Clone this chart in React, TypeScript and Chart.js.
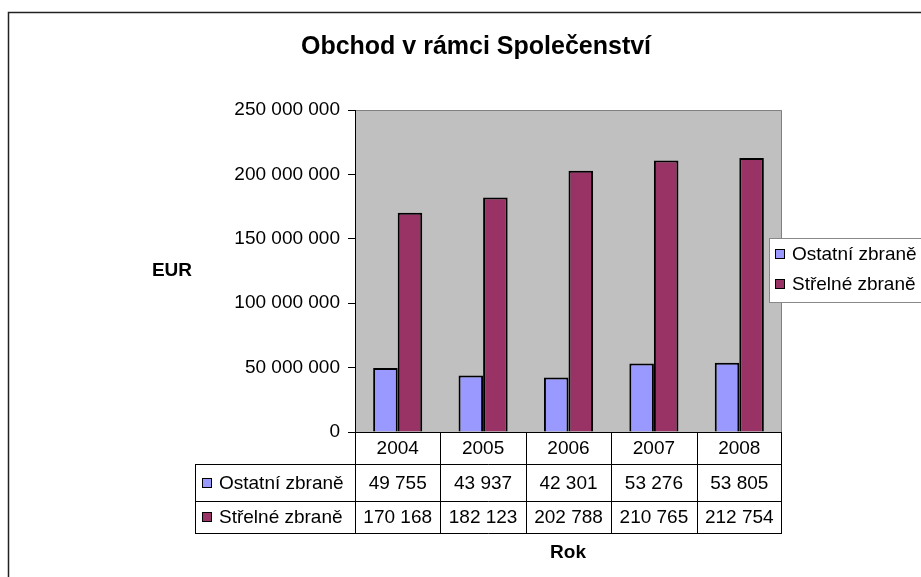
import React, { useEffect, useRef } from "react";
import { Chart, registerables } from "chart.js";

Chart.register(...registerables);

// Values in thousand EUR (as shown in the data table)
const categories = ["2004", "2005", "2006", "2007", "2008"];
const seriesNames = ["Ostatní zbraně", "Střelné zbraně"];
const ostatni = [49755, 43937, 42301, 53276, 53805];
const strelne = [170168, 182123, 202788, 210765, 212754];
const seriesColors = ["#9999FF", "#993366"];
const yMax = 250000;
const yStep = 50000;

const titleText = "Obchod v rámci Společenství";
const yTitle = "EUR";
const xTitle = "Rok";

const FONT = '"Liberation Sans", Arial, sans-serif';

const fmt = (n: number) => String(Math.round(n)).replace(/\B(?=(\d{3})+(?!\d))/g, " ");

const decor = {
  id: "decor",
  beforeDraw(chart: any) {
    const { ctx, chartArea: a, width, height } = chart;
    ctx.save();
    ctx.fillStyle = "#ffffff";
    ctx.fillRect(0, 0, width, height);
    ctx.fillStyle = "#C0C0C0";
    ctx.fillRect(a.left, a.top, a.right - a.left, a.bottom - a.top);
    ctx.strokeStyle = "#808080";
    ctx.lineWidth = 1;
    ctx.beginPath();
    ctx.moveTo(a.left, a.top + 0.5);
    ctx.lineTo(a.right - 0.5, a.top + 0.5);
    ctx.lineTo(a.right - 0.5, a.bottom);
    ctx.stroke();
    ctx.restore();
  },
  afterDraw(chart: any) {
    const { ctx, chartArea: a } = chart;
    const xs = chart.scales.x;
    ctx.save();
    // outer frame
    ctx.strokeStyle = "#222";
    ctx.lineWidth = 1.5;
    ctx.beginPath();
    ctx.moveTo(8.5, 600);
    ctx.lineTo(8.5, 12.5);
    ctx.lineTo(930, 12.5);
    ctx.stroke();

    // title
    ctx.fillStyle = "#000";
    ctx.textBaseline = "middle";
    ctx.textAlign = "center";
    ctx.font = `bold 25px ${FONT}`;
    ctx.fillText(titleText, 476, 47);
    ctx.font = `bold 19px ${FONT}`;
    ctx.fillText(yTitle, 172, 271);
    ctx.fillText(xTitle, 568, 553);

    // data table
    const top = a.bottom;
    const r0 = top + 32;
    const r1 = r0 + 37;
    const r2 = r1 + 32;
    const tLeft = 195.5;
    const bounds: number[] = [a.left];
    for (let i = 0; i < categories.length - 1; i++) {
      bounds.push((xs.getPixelForValue(i) + xs.getPixelForValue(i + 1)) / 2);
    }
    bounds.push(a.right);
    ctx.strokeStyle = "#000";
    ctx.lineWidth = 1;
    ctx.beginPath();
    ctx.moveTo(a.left, top + 0.5);
    ctx.lineTo(a.right, top + 0.5);
    [r0, r1, r2].forEach((y) => {
      ctx.moveTo(tLeft, Math.round(y) + 0.5);
      ctx.lineTo(a.right, Math.round(y) + 0.5);
    });
    ctx.moveTo(tLeft, Math.round(r0));
    ctx.lineTo(tLeft, Math.round(r2) + 1);
    bounds.forEach((bx, i) => {
      const x = Math.round(bx) + (i === bounds.length - 1 ? -0.5 : 0.5);
      ctx.moveTo(x, top);
      ctx.lineTo(x, Math.round(r2) + 1);
    });
    ctx.stroke();

    ctx.font = `19px ${FONT}`;
    ctx.textAlign = "center";
    const rows = [ostatni, strelne];
    categories.forEach((c, i) => {
      const cx = (bounds[i] + bounds[i + 1]) / 2;
      ctx.fillText(c, cx, (top + r0) / 2 + 1);
      ctx.fillText(fmt(rows[0][i]), cx, (r0 + r1) / 2 + 1);
      ctx.fillText(fmt(rows[1][i]), cx, (r1 + r2) / 2 + 1);
    });
    ctx.textAlign = "left";
    const rowCenters = [(r0 + r1) / 2, (r1 + r2) / 2];
    rowCenters.forEach((cy, k) => {
      ctx.fillStyle = seriesColors[k];
      ctx.fillRect(202.5, Math.round(cy) - 4.5, 9, 9);
      ctx.strokeStyle = "#000";
      ctx.strokeRect(202.5, Math.round(cy) - 4.5, 9, 9);
      ctx.fillStyle = "#000";
      ctx.fillText(seriesNames[k], 219, cy + 1);
    });

    // legend
    ctx.fillStyle = "#fff";
    ctx.fillRect(769.5, 238.5, 200, 64);
    ctx.strokeStyle = "#888";
    ctx.strokeRect(769.5, 238.5, 200, 64);
    [254, 284].forEach((cy, k) => {
      ctx.fillStyle = seriesColors[k];
      ctx.fillRect(775.5, cy - 4.5, 9, 9);
      ctx.strokeStyle = "#000";
      ctx.strokeRect(775.5, cy - 4.5, 9, 9);
      ctx.fillStyle = "#000";
      ctx.fillText(seriesNames[k], 792, cy + 1);
    });
    ctx.restore();
  },
};

export default function App() {
  const ref = useRef<HTMLCanvasElement | null>(null);
  useEffect(() => {
    if (!ref.current) return;
    const chart = new Chart(ref.current, {
      type: "bar",
      data: {
        labels: categories,
        datasets: [
          {
            label: seriesNames[0],
            data: ostatni,
            backgroundColor: seriesColors[0],
            borderColor: "#000",
            borderWidth: 2,
          },
          {
            label: seriesNames[1],
            data: strelne,
            backgroundColor: seriesColors[1],
            borderColor: "#000",
            borderWidth: 2,
          },
        ],
      },
      options: {
        responsive: false,
        animation: false,
        devicePixelRatio: 1,
        layout: { padding: { left: 0, top: 110, right: 139, bottom: 145 } },
        datasets: { bar: { categoryPercentage: 0.575, barPercentage: 1 } },
        plugins: {
          legend: { display: false },
          title: { display: false },
          tooltip: { enabled: false },
        },
        scales: {
          x: { display: false },
          y: {
            min: 0,
            max: yMax,
            afterFit(scale: any) {
              scale.width = 355;
            },
            ticks: {
              stepSize: yStep,
              color: "#000",
              padding: 8,
              font: { family: FONT, size: 19 },
              callback: (v: any) => fmt(Number(v) * 1000),
            },
            grid: {
              drawOnChartArea: false,
              drawTicks: true,
              tickLength: 7,
              color: "#000",
            },
            border: { color: "#000", width: 1 },
          },
        },
      },
      plugins: [decor],
    });
    return () => chart.destroy();
  }, []);
  return (
    <div style={{ position: "absolute", left: 0, top: 0, width: 921, height: 577 }}>
      <canvas ref={ref} width={921} height={577} style={{ display: "block" }} />
    </div>
  );
}
